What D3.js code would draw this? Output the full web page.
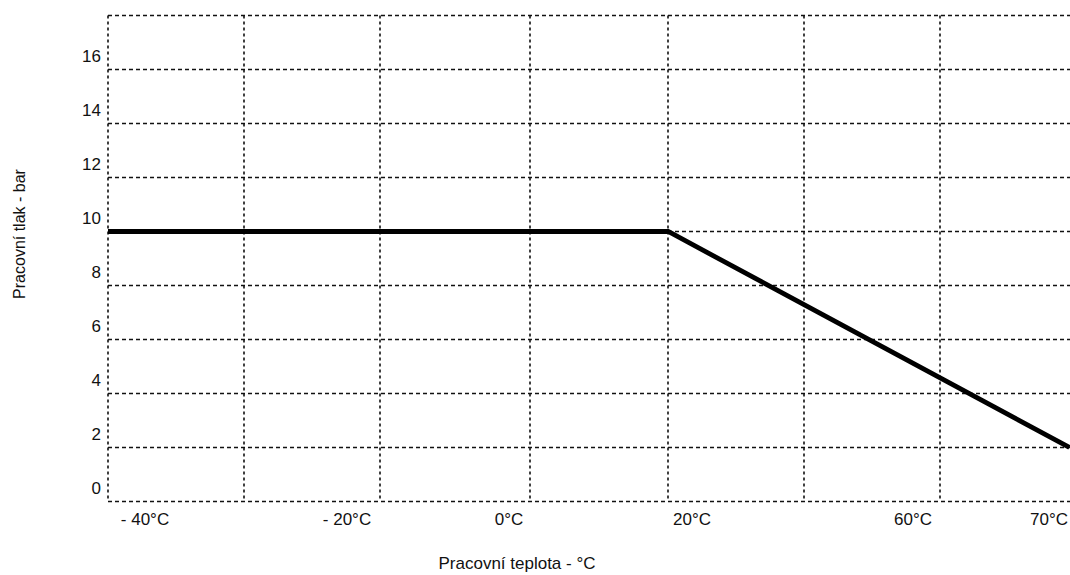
<!DOCTYPE html>
<html>
<head>
<meta charset="utf-8">
<script src="https://cdn.jsdelivr.net/npm/d3@7"></script>
<style>
  html, body { margin: 0; padding: 0; background: #ffffff; }
  svg { display: block; }
  text { font-family: "Liberation Sans", Arial, sans-serif; fill: #111; }
</style>
</head>
<body>
<div id="chart"></div>
<script>
// Data
const tempTicks = [-40, -20, 0, 20, 60, 70];
const tempLabels = ['- 40°C', '- 20°C', '0°C', '20°C', '60°C', '70°C'];
const pressureTicks = [0, 2, 4, 6, 8, 10, 12, 14, 16];
const gridPressures = [-0.5, 1.5, 3.5, 5.5, 7.5, 9.5, 11.5, 13.5, 15.5, 17.5];
const gridColumns = [0, 1, 2, 3, 4, 5, 6];

// working pressure curve (temperature °C, pressure bar)
const curveTemp = [-44, 17.4, 71.5];
const curvePressure = [9.5, 9.5, 1.5];

const width = 1070;
const height = 575;
const plotLeft = 108;
const plotRight = 1070;

const svg = d3.select('#chart')
  .append('svg')
  .attr('width', width)
  .attr('height', height)
  .style('background', '#ffffff');

// the original axis is not uniform, so the scale is piecewise between labels
const x = d3.scaleLinear()
  .domain(tempTicks)
  .range([145, 347, 509, 692, 913, 1049]);

const y = d3.scaleLinear()
  .domain([0, 16])
  .range([488, 56]);

// vertical grid columns (spacing in the original is slightly uneven)
const col = d3.scaleLinear()
  .domain([0, 2, 3, 4, 6])
  .range([plotLeft, 380, 530, 668, 940]);

const plotTop = y(17.5);
const plotBottom = y(-0.5);

const grid = svg.append('g')
  .attr('stroke', '#111')
  .attr('stroke-width', 1.6)
  .attr('fill', 'none');

// horizontal dashed lines
grid.selectAll('.hgrid')
  .data(gridPressures)
  .enter()
  .append('line')
  .attr('class', 'hgrid')
  .attr('x1', plotLeft)
  .attr('x2', plotRight)
  .attr('y1', d => y(d))
  .attr('y2', d => y(d))
  .attr('stroke-dasharray', '4,3');

// vertical dashed lines
grid.selectAll('.vgrid')
  .data(gridColumns)
  .enter()
  .append('line')
  .attr('class', 'vgrid')
  .attr('x1', d => col(d))
  .attr('x2', d => col(d))
  .attr('y1', plotTop)
  .attr('y2', plotBottom)
  .attr('stroke-dasharray', '3,3');

// clip for the curve
svg.append('clipPath')
  .attr('id', 'plot-clip')
  .append('rect')
  .attr('x', plotLeft)
  .attr('y', plotTop)
  .attr('width', plotRight - plotLeft)
  .attr('height', plotBottom - plotTop);

const line = d3.line()
  .x(i => x(curveTemp[i]))
  .y(i => y(curvePressure[i]));

svg.append('path')
  .attr('clip-path', 'url(#plot-clip)')
  .attr('d', line(d3.range(curveTemp.length)))
  .attr('fill', 'none')
  .attr('stroke', '#000')
  .attr('stroke-width', 4.8)
  .attr('stroke-linejoin', 'miter');

// y tick labels
svg.selectAll('.ylabel')
  .data(pressureTicks)
  .enter()
  .append('text')
  .attr('class', 'ylabel')
  .attr('x', 101)
  .attr('y', d => y(d))
  .attr('dy', '0.36em')
  .attr('text-anchor', 'end')
  .attr('font-size', '17px')
  .text(d => d);

// x tick labels
svg.selectAll('.xlabel')
  .data(tempTicks)
  .enter()
  .append('text')
  .attr('class', 'xlabel')
  .attr('x', d => x(d))
  .attr('y', 525)
  .attr('text-anchor', 'middle')
  .attr('font-size', '17px')
  .text((d, i) => tempLabels[i]);

// axis titles
svg.append('text')
  .attr('x', 517)
  .attr('y', 569)
  .attr('text-anchor', 'middle')
  .attr('font-size', '17px')
  .text('Pracovní teplota - °C');

svg.append('text')
  .attr('transform', 'translate(25, 234) rotate(-90)')
  .attr('text-anchor', 'middle')
  .attr('font-size', '16px')
  .text('Pracovní tlak - bar');
</script>
</body>
</html>
